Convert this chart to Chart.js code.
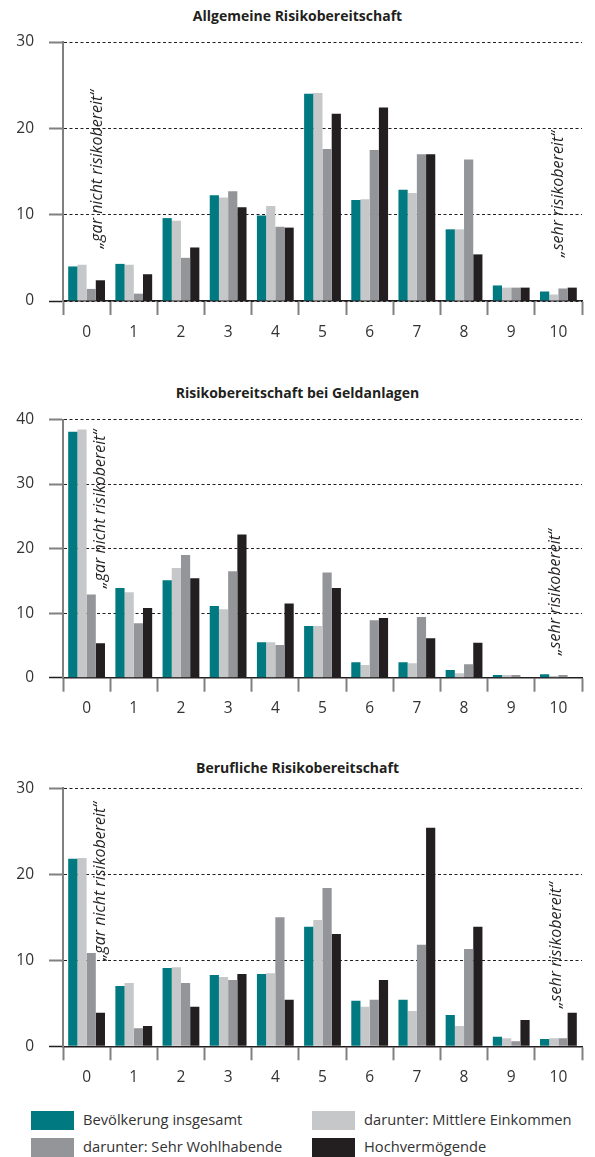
<!DOCTYPE html>
<html>
<head>
<meta charset="utf-8">
<script src="https://cdn.jsdelivr.net/npm/chart.js@4/dist/chart.umd.min.js"></script>
<style>
  body { margin: 0; background: #fff; font-family: "Open Sans", sans-serif; color: #231f20; }
  #page { position: relative; width: 595px; height: 1157px; overflow: hidden; }
  canvas { position: absolute; left: 0; }
  .title { position: absolute; left: 0; width: 595px; text-align: center; font-weight: bold; font-size: 14px; line-height: 18px; }
  .legend { position: absolute; font-size: 14.7px; line-height: 19px; color: #333; }
  .legend span.box { position: absolute; left: 0; top: 0; width: 43px; height: 19px; }
  .legend span.txt { position: absolute; left: 52px; top: -1px; white-space: nowrap; }
</style>
</head>
<body>
<div id="page">
  <div class="title" style="top:7px">Allgemeine Risikobereitschaft</div>
  <canvas id="c1" width="595" height="360" style="top:0px"></canvas>
  <div class="title" style="top:384px">Risikobereitschaft bei Geldanlagen</div>
  <canvas id="c2" width="595" height="375" style="top:360px"></canvas>
  <div class="title" style="top:759px">Berufliche Risikobereitschaft</div>
  <canvas id="c3" width="595" height="365" style="top:735px"></canvas>
  <div id="legend"></div>
</div>
<script>
// Skala 0 ("gar nicht risikobereit") bis 10 ("sehr risikobereit"), Angaben in Prozent
const categories = ['0', '1', '2', '3', '4', '5', '6', '7', '8', '9', '10'];
const seriesNames = ['Bevölkerung insgesamt', 'darunter: Mittlere Einkommen', 'darunter: Sehr Wohlhabende', 'Hochvermögende'];
const seriesColors = ['#007a80', '#c6c7c9', '#939598', '#231f20'];

// Allgemeine Risikobereitschaft
const allgBevoelkerung = [4.0, 4.3, 9.6, 12.25, 9.9, 24.0, 11.7, 12.9, 8.3, 1.8, 1.1];
const allgMittlere     = [4.2, 4.2, 9.3, 12.0, 11.0, 24.1, 11.8, 12.5, 8.3, 1.55, 0.75];
const allgWohlhabende  = [1.4, 0.85, 5.0, 12.7, 8.6, 17.6, 17.5, 17.0, 16.4, 1.55, 1.45];
const allgHochverm     = [2.4, 3.1, 6.2, 10.85, 8.5, 21.7, 22.4, 17.0, 5.4, 1.55, 1.55];

// Risikobereitschaft bei Geldanlagen
const geldBevoelkerung = [38.1, 13.9, 15.1, 11.1, 5.5, 8.0, 2.4, 2.4, 1.2, 0.4, 0.55];
const geldMittlere     = [38.45, 13.25, 17.0, 10.6, 5.5, 8.0, 1.95, 2.25, 0.7, 0.4, 0.25];
const geldWohlhabende  = [12.9, 8.45, 19.0, 16.5, 5.05, 16.3, 8.9, 9.4, 2.1, 0.4, 0.4];
const geldHochverm     = [5.35, 10.8, 15.4, 22.2, 11.5, 13.9, 9.25, 6.1, 5.4, 0, 0];

// Berufliche Risikobereitschaft
const berufBevoelkerung = [21.8, 7.0, 9.1, 8.3, 8.4, 13.9, 5.3, 5.4, 3.65, 1.1, 0.85];
const berufMittlere     = [21.9, 7.35, 9.2, 8.05, 8.5, 14.7, 4.6, 4.1, 2.35, 0.95, 0.95];
const berufWohlhabende  = [10.85, 2.1, 7.35, 7.7, 15.0, 18.4, 5.4, 11.8, 11.3, 0.6, 0.95];
const berufHochverm     = [3.9, 2.35, 4.6, 8.4, 5.4, 13.05, 7.7, 25.4, 13.9, 3.05, 3.9];

const noteLow = '„gar nicht risikobereit“';
const noteHigh = '„sehr risikobereit“';

const sideNotes = {
    id: 'sideNotes',
    afterDatasetsDraw(chart, args, opts) {
        const ctx = chart.ctx;
        const x = chart.scales.x, y = chart.scales.y;
        (opts.notes || []).forEach(n => {
            ctx.save();
            ctx.translate(x.getPixelForValue(n.index) + n.dx, y.getPixelForValue(n.from));
            ctx.rotate(-Math.PI / 2);
            ctx.font = 'italic 16px "Open Sans"';
            ctx.fillStyle = '#231f20';
            ctx.textAlign = 'left';
            ctx.textBaseline = 'middle';
            ctx.fillText(n.text, 0, 0);
            ctx.restore();
        });
    }
};

function makeChart(id, series, yMax, top, bottom, notes) {
    const canvas = document.getElementById(id);
    const h = canvas.height;
    return new Chart(canvas, {
        type: 'bar',
        data: {
            labels: categories,
            datasets: series.map((s, i) => ({
                label: seriesNames[i],
                data: s,
                backgroundColor: seriesColors[i],
                borderWidth: 0,
                categoryPercentage: 0.78,
                barPercentage: 1.0
            }))
        },
        options: {
            responsive: false,
            animation: false,
            devicePixelRatio: 1,
            layout: { padding: { top: top, left: 0, right: 13, bottom: 0 } },
            plugins: {
                legend: { display: false },
                tooltip: { enabled: false },
                sideNotes: { notes: notes }
            },
            scales: {
                x: {
                    afterFit: s => { s.height = h - bottom; },
                    grid: {
                        display: true,
                        offset: true,
                        drawOnChartArea: false,
                        drawTicks: true,
                        tickLength: 14,
                        tickColor: '#808080',
                        tickWidth: 2
                    },
                    border: { display: true, color: '#231f20', width: 1.5 },
                    ticks: {
                        padding: 8,
                        color: '#333',
                        font: { family: 'Open Sans', size: 15.5 }
                    }
                },
                y: {
                    min: 0,
                    max: yMax,
                    afterFit: s => { s.width = 63; },
                    grid: {
                        color: '#231f20',
                        lineWidth: 1,
                        tickLength: 14,
                        tickColor: c => c.tick && c.tick.value === 0 ? '#231f20' : '#808080',
                        tickWidth: c => c.tick && c.tick.value === 0 ? 1.5 : 2
                    },
                    border: { display: true, color: '#808080', width: 2, dash: [3, 2.5] },
                    ticks: {
                        stepSize: 10,
                        padding: 15,
                        color: '#333',
                        font: { family: 'Open Sans', size: 15.5 }
                    }
                }
            }
        },
        plugins: [sideNotes]
    });
}

makeChart('c1', [allgBevoelkerung, allgMittlere, allgWohlhabende, allgHochverm], 30, 42, 301, [
    { text: noteLow, index: 0, dx: 10.5, from: 6.1 },
    { text: noteHigh, index: 10, dx: 0.5, from: 5.1 }
]);
makeChart('c2', [geldBevoelkerung, geldMittlere, geldWohlhabende, geldHochverm], 40, 59.5, 317.7, [
    { text: noteLow, index: 0, dx: 13.5, from: 13.9 },
    { text: noteHigh, index: 10, dx: -2.5, from: 3.5 }
]);
makeChart('c3', [berufBevoelkerung, berufMittlere, berufWohlhabende, berufHochverm], 30, 53.3, 311.3, [
    { text: noteLow, index: 0, dx: 13.5, from: 10.0 },
    { text: noteHigh, index: 10, dx: -1.5, from: 4.45 }
]);

// Legende (2 Spalten)
const legendPos = [[31, 1111], [312, 1111], [31, 1138], [312, 1138]];
const legendEl = document.getElementById('legend');
seriesNames.forEach((name, k) => {
    const d = document.createElement('div');
    d.className = 'legend';
    d.style.left = legendPos[k][0] + 'px';
    d.style.top = legendPos[k][1] + 'px';
    d.innerHTML = '<span class="box" style="background:' + seriesColors[k] + '"></span><span class="txt">' + name + '</span>';
    legendEl.appendChild(d);
});
</script>
</body>
</html>
